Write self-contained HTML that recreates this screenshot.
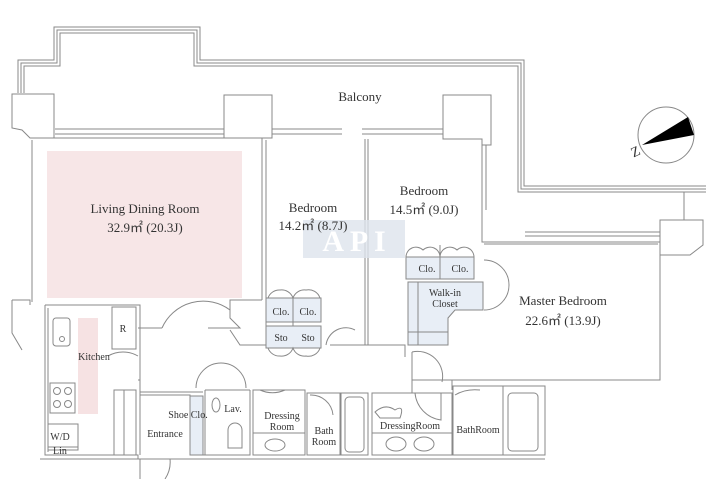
<!DOCTYPE html>
<html><head><meta charset="utf-8"><style>
html,body{margin:0;padding:0;background:#fff;}
svg{display:block;}
text{font-family:"Liberation Serif",serif;fill:#333;}
</style></head><body>
<svg width="710" height="479" viewBox="0 0 710 479" xmlns="http://www.w3.org/2000/svg">
<g fill="none" stroke="#888" stroke-width="1">
<path d="M18,93 V60 H54 V27 H200 V60 H524 V186 H706"/>
<path d="M21,93 V63 H57 V30 H197 V63 H521 V189 H706"/>
<path d="M24,93 V66 H60 V33 H194 V66 H518 V192 H706"/>
<path d="M12,94 H54 V138 H30 L22,130 L12,128 Z" fill="#fff"/>
<path d="M224,95 H272 V138 H224 Z" fill="#fff"/>
<path d="M443,95 H491 V145 H482 V139 H443 Z" fill="#fff"/>
<path d="M660,220 H703 V245 L690,255 H660 Z" fill="#fff"/>
<line x1="684" y1="192" x2="684" y2="220"/>
<path d="M55,129 H224 M55,134 H224 M272,129 H342 M272,134 H342 M362,129 H443 M362,134 H443"/>
<path d="M482,145 V210 M486,145 V210"/>
<path d="M525,232 H660 M525,236 H660"/>
<path d="M30,138 H262 V300 M32,140 V302 M266,140 V340 M365,139 V345 M368,139 V345"/>
<path d="M482,145 V242 H660 V380 H452 V390"/>
<path d="M660,255 V380" />
<path d="M484,244 H658"/>
<path d="M12,300 H30 V305 M12,300 V333 L22,350 M45,305 H140 V328 H138"/>
<path d="M45,305 V455 H138 V459"/>
<path d="M48,308 V452"/>
<path d="M40,459 H545"/>
<rect x="53" y="318" width="17" height="28" rx="3"/>
<circle cx="62" cy="339" r="2.5"/>
<rect x="50" y="383" width="25" height="30"/>
<circle cx="57" cy="391" r="3.5"/><circle cx="68" cy="391" r="3.5"/>
<circle cx="57" cy="404" r="3.5"/><circle cx="68" cy="404" r="3.5"/>
<rect x="48" y="424" width="30" height="26"/>
<line x1="48" y1="447" x2="78" y2="447"/>
<rect x="112" y="307" width="24" height="42"/>
<path d="M140,328 H162 M208,328 H240 L230,318 V300 H262"/>
<path d="M162,328 A45,45 0 0,1 230,310"/>
<path d="M230,330 L240,345 L266,345 M330,345 H365 V340"/>
<path d="M140,328 V455 M138,380 H140"/>
<path d="M108,356 A30,30 0 0,1 138,356"/>
<rect x="114" y="390" width="22" height="65"/>
<line x1="124" y1="390" x2="124" y2="455"/>
<path d="M140,395 H190 V455 M140,392 H203"/>
<path d="M140,459 V479 M170,459 A30,30 0 0,1 165,479"/>
<rect x="190" y="396" width="13" height="59" fill="#e8eef6"/>
<path d="M205,390 V455 M205,390 H250 M250,390 V455 H203"/>
<path d="M196,388 A25,25 0 0,1 246,388"/>
<ellipse cx="216" cy="405" rx="4" ry="7"/>
<path d="M228,448 V430 A7,7 0 0,1 242,430 V448 Z"/>
<path d="M253,390 H305 V455 H253 Z M253,433 H305"/>
<ellipse cx="275" cy="445" rx="10" ry="6"/>
<path d="M260,390 A30,30 0 0,0 285,390"/>
<path d="M307,393 H340 V455 H307 Z"/>
<path d="M310,395 A22,22 0 0,1 333,415"/>
<path d="M341,393 H368 V455 H341 Z"/>
<rect x="345" y="397" width="19" height="55" rx="4"/>
<path d="M372,393 H452 V455 H372 Z M372,433 H452"/>
<path d="M375,412 Q385,403 395,410 Q405,404 400,418 H380 Z"/>
<ellipse cx="396" cy="444" rx="10" ry="7"/><ellipse cx="424" cy="444" rx="10" ry="7"/>
<path d="M415,393 A30,30 0 0,0 441,420 V393"/>
<path d="M453,386 H545 V455 H453 Z"/>
<path d="M455,395 A30,20 0 0,1 480,390"/>
<rect x="508" y="393" width="30" height="58" rx="4"/>
<line x1="503" y1="386" x2="503" y2="455"/>
<path d="M545,386 V455 M452,380 H412 V393"/>
<rect x="266" y="298" width="55" height="24" fill="#e8eef6"/>
<line x1="293" y1="298" x2="293" y2="345"/>
<rect x="266" y="326" width="55" height="22" fill="#e8eef6"/>
<path d="M268,298 A12,12 0 0,1 280,290 A12,12 0 0,1 293,298 A12,12 0 0,1 306,290 A12,12 0 0,1 320,298"/>
<path d="M268,348 A12,12 0 0,0 280,356 A12,12 0 0,0 293,348 A12,12 0 0,0 306,356 A12,12 0 0,0 320,348"/>
<path d="M326,345 A20,20 0 0,1 355,330"/>
<rect x="406" y="257" width="68" height="22" fill="#e8eef6"/>
<line x1="440" y1="245" x2="440" y2="279"/>
<path d="M406,257 A10,10 0 0,1 423,250 A10,10 0 0,1 440,257 A10,10 0 0,1 457,250 A10,10 0 0,1 474,257"/>
<path d="M408,282 H483 V310 H455 L448,318 V345 H408 Z" fill="#e8eef6"/>
<line x1="418" y1="282" x2="418" y2="345"/>
<line x1="408" y1="332" x2="448" y2="332"/>
<path d="M484,260 A25,25 0 0,1 484,310"/>
<path d="M365,345 H405 V357 M412,352 A25,25 0 0,1 442,382"/>
<path d="M412,352 V385"/>
</g>
<rect x="47" y="151" width="195" height="147" fill="#f6e2e3" opacity="0.85"/>
<rect x="78" y="318" width="20" height="96" fill="#f6e2e3"/>
<rect x="303" y="220" width="102" height="38" fill="#dde4ec" opacity="0.8"/>
<text x="354" y="251" font-family="Liberation Sans,sans-serif" font-size="30" font-weight="bold" text-anchor="middle" style="fill:#fff">A P I</text>
<circle cx="666" cy="135" r="28" fill="none" stroke="#888"/>
<path d="M642,145 L688,117 L694,135 Z" fill="#000"/>
<text x="631" y="158" font-size="14" font-family="Liberation Sans,sans-serif" transform="rotate(-25 631 152)">Z</text>
<g font-size="13" text-anchor="middle">
<text x="360" y="101">Balcony</text>
<text x="145" y="213">Living Dining Room</text>
<text x="145" y="232">32.9㎡ (20.3J)</text>
<text x="313" y="212">Bedroom</text>
<text x="313" y="230">14.2㎡ (8.7J)</text>
<text x="424" y="195">Bedroom</text>
<text x="424" y="214">14.5㎡ (9.0J)</text>
<text x="563" y="305">Master Bedroom</text>
<text x="563" y="325">22.6㎡ (13.9J)</text>
</g>
<g font-size="10" text-anchor="middle">
<text x="94" y="360">Kitchen</text>
<text x="123" y="332">R</text>
<text x="281" y="315">Clo.</text><text x="308" y="315">Clo.</text>
<text x="281" y="341">Sto</text><text x="308" y="341">Sto</text>
<text x="427" y="272">Clo.</text><text x="460" y="272">Clo.</text>
<text x="445" y="296">Walk-in</text><text x="445" y="307">Closet</text>
<text x="188" y="418">Shoe Clo.</text>
<text x="233" y="412">Lav.</text>
<text x="165" y="437">Entrance</text>
<text x="282" y="419">Dressing</text><text x="282" y="430">Room</text>
<text x="324" y="434">Bath</text><text x="324" y="445">Room</text>
<text x="410" y="429">DressingRoom</text>
<text x="478" y="433">BathRoom</text>
<text x="60" y="440">W/D</text>
<text x="60" y="454">Lin</text>
</g>
</svg>
</body></html>
